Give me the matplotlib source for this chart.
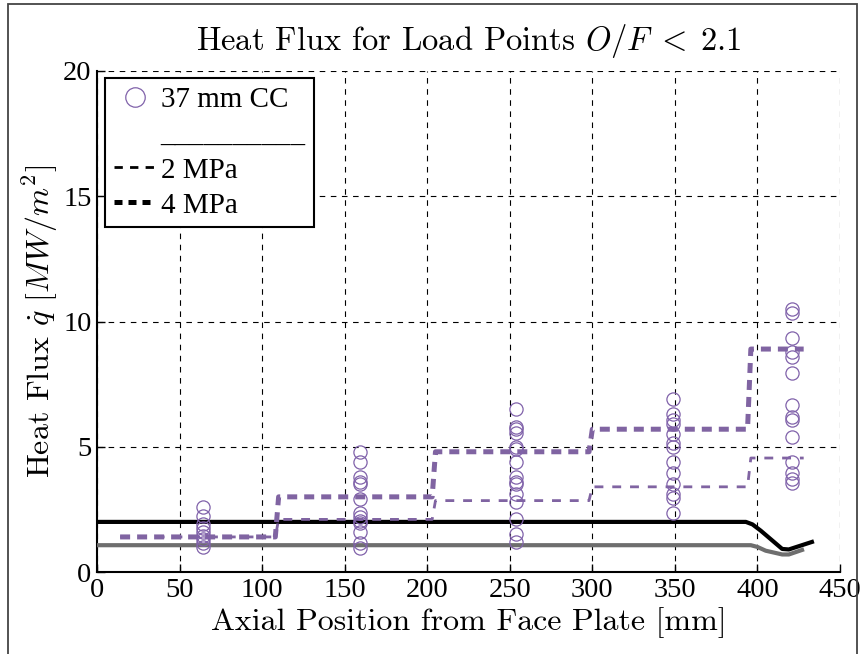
import numpy as np
import matplotlib
matplotlib.use('Agg')
import matplotlib.pyplot as plt
from matplotlib.lines import Line2D
from matplotlib.patches import Rectangle

plt.rcParams['mathtext.fontset'] = 'cm'

# measured heat flux, 37 mm CC (x position in mm, flux in MW/m^2)
pos_cc = [64, 159, 254, 349, 421]
flux_cc = [
    [2.6, 2.25, 1.9, 1.75, 1.6, 1.45, 1.3, 1.15, 1.0],
    [4.8, 4.4, 3.8, 3.6, 3.5, 2.9, 2.35, 2.2, 2.05, 1.95, 1.6, 1.15, 0.95],
    [6.5, 5.8, 5.7, 5.55, 5.0, 4.9, 4.4, 3.8, 3.6, 3.5, 3.1, 2.8, 2.1, 1.5, 1.2],
    [6.9, 6.3, 6.05, 5.9, 5.5, 5.15, 5.0, 4.4, 3.95, 3.5, 3.1, 2.95, 2.35],
    [10.5, 10.35, 9.35, 8.8, 8.6, 7.95, 6.65, 6.2, 6.05, 5.4, 4.4, 3.95, 3.7, 3.55],
]

# segment model, step levels
x_step = [14, 108, 110, 203, 205, 298, 300, 394, 396, 428]
q_2mpa = [1.4, 1.4, 2.1, 2.1, 2.85, 2.85, 3.4, 3.4, 4.55, 4.55]
q_4mpa = [1.4, 1.4, 3.0, 3.0, 4.8, 4.8, 5.7, 5.7, 8.9, 8.9]

# black / gray reference curves
x_black = [0, 393, 397, 402, 415, 419, 433]
q_black = [2.0, 2.0, 1.9, 1.65, 0.92, 0.9, 1.2]
x_gray = [0, 396, 400, 405, 415, 419, 427]
q_gray = [1.07, 1.07, 1.0, 0.85, 0.7, 0.7, 0.88]

purple = '#8064a2'
circ = '#8062aa'

fig = plt.figure(figsize=(8.66, 6.54), dpi=100)
ax = fig.add_axes([97/866, 1-572/654, 743/866, 501/654])

ax.plot(x_gray, q_gray, color='#6e6e6e', lw=3.0, zorder=3)
ax.plot(x_black, q_black, color='black', lw=3.0, zorder=3)
ax.plot(x_step, q_2mpa, color=purple, lw=2.0, dashes=(3.2, 3.2), zorder=4)
ax.plot(x_step, q_4mpa, color=purple, lw=3.6, dashes=(2.0, 1.4), zorder=4)

for xp, ys in zip(pos_cc, flux_cc):
    ax.plot([xp]*len(ys), ys, 'o', mfc='none', mec=circ, mew=0.9, ms=9.5, zorder=5)

ax.set_xlim(0, 450)
ax.set_ylim(0, 20)
ax.set_xticks(np.arange(0, 451, 50))
ax.set_yticks([0, 5, 10, 15, 20])
ax.grid(True, color='black', lw=0.8, ls=(0, (5, 5)))
ax.spines['top'].set_visible(False)
ax.spines['right'].set_visible(False)
ax.spines['left'].set_linewidth(1.5)
ax.spines['bottom'].set_linewidth(1.5)
ax.tick_params(direction='in', length=6, width=1, pad=4)
for lab in ax.get_xticklabels() + ax.get_yticklabels():
    lab.set_fontfamily('Liberation Serif')
    lab.set_fontsize(20.5)

ax.set_title(r'Heat Flux for Load Points $O/F\;<\;2.1$', fontfamily='cmr10',
             fontsize=23.5, pad=15)
ax.set_xlabel('Axial Position from Face Plate [mm]', fontfamily='cmr10',
              fontsize=23, labelpad=3)
ax.set_ylabel(r'Heat Flux $\dot{q}$ $[MW/m^2]$', fontfamily='cmr10',
              fontsize=23, labelpad=2)

handles = [
    Line2D([], [], ls='none', marker='o', mfc='none', mec=circ, mew=0.9, ms=14),
    Line2D([], [], ls='none'),
    Line2D([], [], color='black', lw=2.0, dashes=(3.0, 2.6)),
    Line2D([], [], color='black', lw=3.6, dashes=(1.6, 1.2)),
]
labels = ['37 mm CC', '_' * 10, '2 MPa', '4 MPa']
leg = ax.legend(handles, labels, loc='upper left', bbox_to_anchor=(0.011, 0.986),
                borderaxespad=0, fancybox=False, framealpha=1, edgecolor='black',
                prop={'family': 'Liberation Serif', 'size': 21},
                handlelength=1.45, handletextpad=0.15, labelspacing=0.3,
                borderpad=0.3)
leg.get_frame().set_linewidth(1.5)
leg.set_zorder(10)

fig.patches.append(Rectangle((8/866, -0.02), 849/866, 1.02 - 4/654,
                             transform=fig.transFigure, fill=False,
                             edgecolor='#444444', lw=1.3))

fig.savefig('out.png', dpi=100)
